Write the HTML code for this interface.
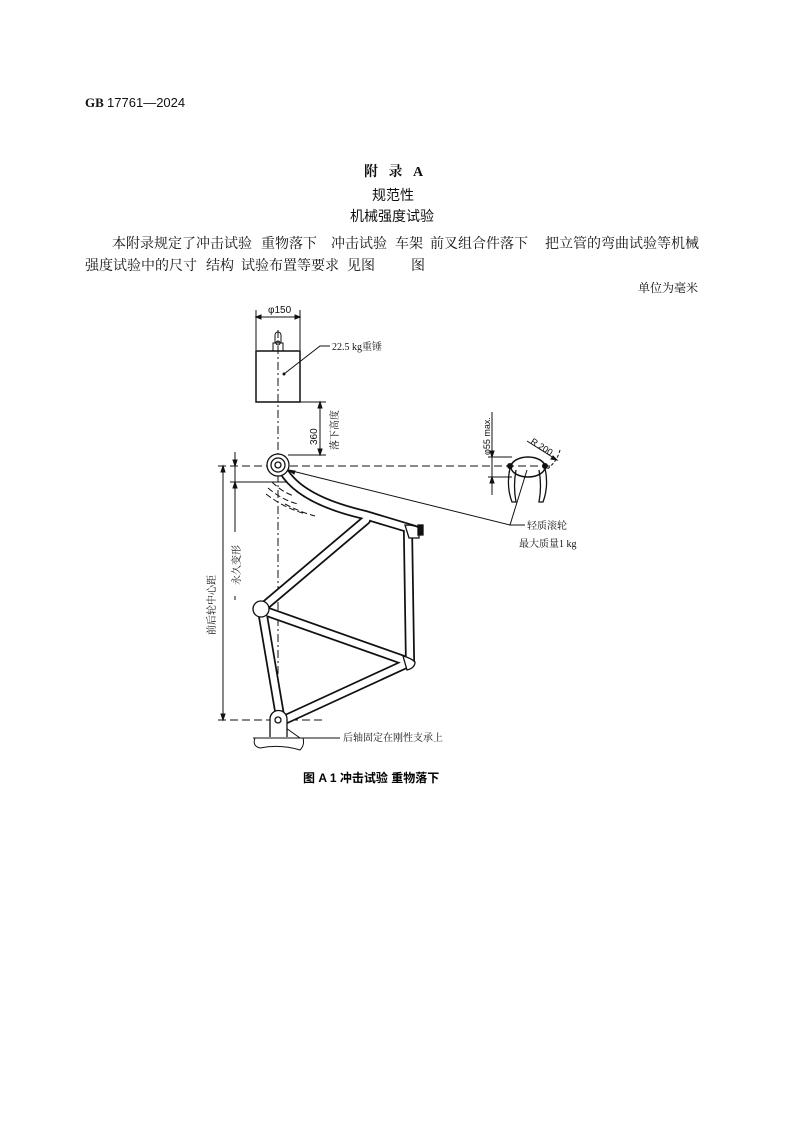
<!DOCTYPE html>
<html><head><meta charset="utf-8"><style>
body{margin:0;width:793px;height:1122px;background:#fff;position:relative;font-family:"Liberation Serif","Noto Serif CJK SC",serif;color:#111;overflow:hidden}
.t{position:absolute;white-space:nowrap;line-height:1}
.s{font-family:"Liberation Sans","Noto Sans CJK SC",sans-serif}
.p{font-size:14px}
</style></head><body>
<div class="t" style="left:85px;top:96px;font-size:13px;font-weight:bold">GB <span class="s" style="font-weight:normal">17761—2024</span></div>
<div class="t" style="left:364px;top:166px;font-size:14px;font-weight:bold">附&nbsp;&nbsp;&nbsp;录&nbsp;&nbsp;&nbsp;A</div>
<div class="t s" style="left:372px;top:188px;font-size:14px">规范性</div>
<div class="t s" style="left:350px;top:209px;font-size:14px">机械强度试验</div>
<div class="t p" style="left:112px;top:238px">本附录规定了冲击试验</div>
<div class="t p" style="left:261px;top:238px">重物落下</div>
<div class="t p" style="left:331px;top:238px">冲击试验</div>
<div class="t p" style="left:395px;top:238px">车架</div>
<div class="t p" style="left:430px;top:238px">前叉组合件落下</div>
<div class="t p" style="left:545px;top:238px">把立管的弯曲试验等机械</div>
<div class="t p" style="left:85px;top:260px">强度试验中的尺寸</div>
<div class="t p" style="left:206px;top:260px">结构</div>
<div class="t p" style="left:241px;top:260px">试验布置等要求</div>
<div class="t p" style="left:347px;top:260px">见图</div>
<div class="t p" style="left:411px;top:260px">图</div>
<div class="t" style="left:638px;top:282px;font-size:12px">单位为毫米</div>

<svg width="793" height="1122" style="position:absolute;left:0;top:0" xmlns="http://www.w3.org/2000/svg" font-family="Liberation Serif,Noto Serif CJK SC,serif">
<g stroke="#111" fill="none" stroke-width="1">
<line x1="256" y1="310" x2="256" y2="350"/><line x1="300" y1="310" x2="300" y2="350"/>
<line x1="256" y1="317" x2="300" y2="317"/>
<path d="M256 317l5-2v4zM300 317l-5-2v4z" fill="#111"/>
<path d="M273 351v-8h10v8M275 343v-8a3 3 0 0 1 6 0v8"/><circle cx="278" cy="343" r="2"/>
<rect x="256" y="351" width="44" height="51" stroke-width="1.5"/>
<circle cx="284" cy="374" r="1" fill="#111"/>
<path d="M284 374L320 346H330"/>
<line x1="278" y1="330" x2="278" y2="725" stroke-dasharray="8 3 2 3"/>
<line x1="300" y1="402" x2="326" y2="402"/><line x1="288" y1="455" x2="326" y2="455"/>
<line x1="320" y1="402" x2="320" y2="455"/>
<path d="M320 402l-2 6h4zM320 455l-2-6h4z" fill="#111"/>
<line x1="218" y1="466" x2="550" y2="466" stroke-dasharray="8 4"/>
<line x1="218" y1="720" x2="325" y2="720" stroke-dasharray="8 4"/>
<line x1="235" y1="452" x2="235" y2="532"/><line x1="235" y1="596" x2="235" y2="600"/>
<line x1="230" y1="482" x2="290" y2="482"/>
<path d="M235 466l-2-6h4zM235 482l-2 6h4z" fill="#111"/>
<line x1="223" y1="466" x2="223" y2="720"/>
<path d="M223 466l-2 6h4zM223 720l-2-6h4z" fill="#111"/>
<ellipse cx="528" cy="467" rx="17" ry="10" stroke-width="1.5"/>
<circle cx="510" cy="466" r="2.5" fill="#111"/><circle cx="545" cy="466" r="2.5" fill="#111"/>
<path d="M510 468q-4 18 2 34h4q-3-16 0-32M545 468q4 18-2 34h-4q3-16 0-32" stroke-width="1.3"/>
<line x1="492" y1="412" x2="492" y2="495"/>
<line x1="488" y1="457" x2="512" y2="457"/><line x1="488" y1="477" x2="512" y2="477"/>
<path d="M492 457l-2-6h4zM492 477l-2 6h4z" fill="#111"/>
<line x1="527" y1="441" x2="557" y2="460"/><path d="M557 460l-6-1 2-3z" fill="#111"/>
<path d="M560 450q-3 12-14 20" stroke-dasharray="3 2"/>
<path d="M527 470L510 525H525"/>
<path d="M510 525L288 470"/><path d="M288 470l6 4 1-3z" fill="#111"/>
<path d="M272 482q10 10 22 14M268 488q14 12 30 16M266 494q18 14 40 20M285 504q15 8 30 12" stroke-dasharray="6 3"/>
<path d="M253 738H303M255 738q-3 8 5 10q20 -4 40 2q5-5 3-12"/>
<path d="M270 737v-18a8 8 0 0 1 17 0v18" fill="#fff"/>
<circle cx="278" cy="720" r="3"/>
<path d="M286 728L300 738H340"/>
</g>
<g fill="none" stroke-linecap="round">
<g stroke="#111" stroke-width="10">
<path d="M283 470Q300 500 365 515L415 530"/>
<path d="M366 520L262 608"/>
<path d="M262 610L409 662"/>
<path d="M408 532L410 660"/>
<path d="M410 662L284 720"/>
<path d="M262 610L280 716"/>
</g>
<g stroke="#fff" stroke-width="6.5">
<path d="M283 470Q300 500 365 515L415 530"/>
<path d="M366 520L262 608"/>
<path d="M262 610L409 662"/>
<path d="M408 532L410 660"/>
<path d="M410 662L284 720"/>
<path d="M262 610L280 716"/>
</g>
</g>
<g stroke="#111" fill="#fff" stroke-width="1.3">
<circle cx="278" cy="465" r="11"/><circle cx="278" cy="465" r="7"/><circle cx="278" cy="465" r="3"/>
<circle cx="261" cy="609" r="8"/>
<path d="M405 525q10 0 14 3v10l-10 0z"/>
<rect x="418" y="525" width="5" height="10" fill="#111"/>
<path d="M403 656q8 2 12 6q0 6-8 8z"/>
<path d="M270 737v-18a8 8 0 0 1 17 0v18"/>
<circle cx="278" cy="720" r="3"/>
</g>
<g font-size="10" fill="#111">
<text x="268" y="313" font-family="Liberation Sans,sans-serif">φ150</text>
<text x="332" y="350">22.5 kg重锤</text>
<text transform="translate(317 445) rotate(-90)" font-family="Liberation Sans,sans-serif">360</text>
<text transform="translate(338 450) rotate(-90)">落下高度</text>
<text transform="translate(490 455) rotate(-90)" font-family="Liberation Sans,sans-serif" font-size="9">φ55 max.</text>
<text transform="translate(530 443) rotate(32)" font-family="Liberation Sans,sans-serif" font-size="9">R 200</text>
<text x="527" y="529">轻质滚轮</text>
<text x="519" y="547">最大质量1 kg</text>
<text transform="translate(240 585) rotate(-90)">永久变形</text>
<text transform="translate(215 635) rotate(-90)">前后轮中心距</text>
<text x="343" y="741">后轴固定在刚性支承上</text>
</g>
<text x="303" y="782" font-size="12" font-weight="bold" font-family="Liberation Sans,Noto Sans CJK SC,sans-serif">图 A 1   冲击试验 重物落下</text>
</svg>
</body></html>
